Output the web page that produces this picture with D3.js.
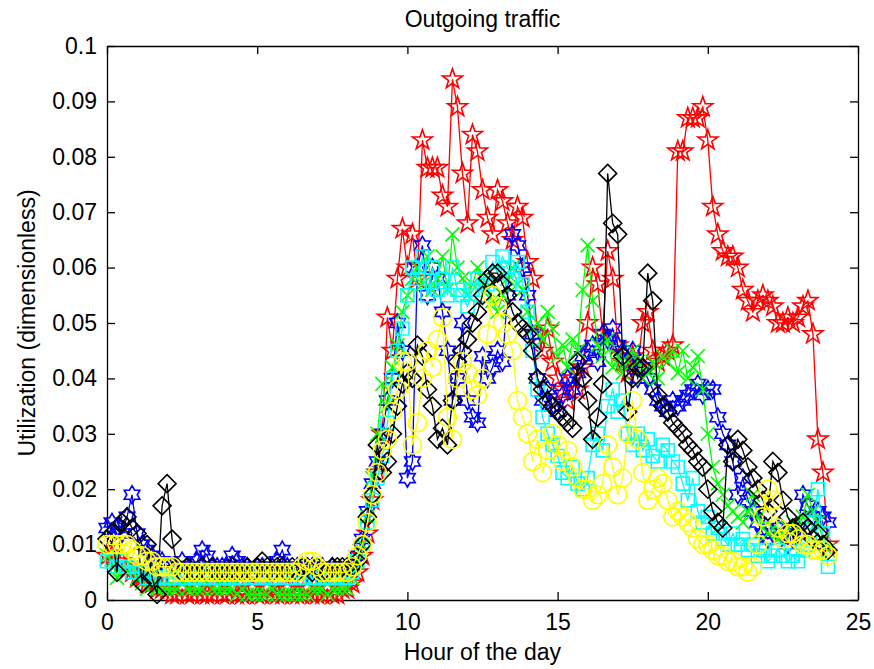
<!DOCTYPE html>
<html>
<head>
<meta charset="utf-8">
<script src="https://d3js.org/d3.v7.min.js"></script>
<style>
  body { margin: 0; background: #fff; }
  text { font-family: Arial, "Liberation Sans", Helvetica, sans-serif; fill: #000; }
</style>
</head>
<body>
<svg id="chart" width="874" height="669"></svg>
<script>
// one sample every 10 minutes, 0h .. 24h
var stepHours = 1 / 6;

var red = [
  0.008,0.008,0.007,0.007,0.006,0.005,
  0.004,0.004,0.003,0.003,0.002,0.002,
  0.002,0.001,0.001,0.002,0.001,0.001,
  0.002,0.001,0.001,0.001,0.002,0.001,
  0.001,0.002,0.001,0.001,0.001,0.002,
  0.001,0.001,0.002,0.001,0.001,0.001,
  0.002,0.001,0.001,0.001,0.002,0.001,
  0.001,0.001,0.002,0.001,0.001,0.002,
  0.002,0.003,0.005,0.008,0.012,0.018,
  0.023,0.030,0.051,0.045,0.058,0.067,
  0.060,0.066,0.058,0.083,0.078,0.078,
  0.078,0.073,0.071,0.094,0.089,0.077,
  0.068,0.084,0.081,0.074,0.069,0.066,
  0.074,0.072,0.068,0.065,0.071,0.069,
  0.061,0.058,0.048,0.045,0.049,0.043,
  0.040,0.038,0.036,0.040,0.038,0.042,
  0.050,0.060,0.057,0.048,0.063,0.058,
  0.046,0.043,0.041,0.044,0.042,0.050,
  0.052,0.045,0.043,0.044,0.045,0.046,
  0.081,0.081,0.087,0.087,0.087,0.089,
  0.083,0.071,0.066,0.063,0.062,0.062,
  0.060,0.056,0.054,0.052,0.054,0.055,
  0.054,0.053,0.050,0.050,0.051,0.050,
  0.051,0.053,0.054,0.048,0.029,0.023,
  0.010
];

var blue = [
  0.013,0.014,0.013,0.012,0.015,0.019,
  0.012,0.010,0.009,0.008,0.007,0.007,
  0.006,0.006,0.006,0.007,0.006,0.006,
  0.007,0.009,0.008,0.006,0.006,0.006,
  0.006,0.008,0.007,0.006,0.006,0.005,
  0.006,0.006,0.005,0.006,0.007,0.009,
  0.006,0.005,0.006,0.006,0.005,0.006,
  0.005,0.006,0.005,0.006,0.005,0.005,
  0.005,0.006,0.008,0.011,0.016,0.021,
  0.025,0.030,0.036,0.040,0.050,0.045,
  0.022,0.025,0.060,0.064,0.055,0.060,
  0.058,0.052,0.045,0.036,0.040,0.050,
  0.036,0.033,0.032,0.044,0.040,0.042,
  0.045,0.043,0.055,0.066,0.064,0.060,
  0.055,0.048,0.040,0.036,0.038,0.035,
  0.034,0.037,0.040,0.038,0.041,0.044,
  0.045,0.046,0.043,0.048,0.047,0.049,
  0.046,0.045,0.043,0.045,0.040,0.042,
  0.040,0.038,0.036,0.035,0.034,0.036,
  0.035,0.036,0.037,0.038,0.039,0.037,
  0.038,0.038,0.033,0.030,0.028,0.025,
  0.019,0.022,0.018,0.016,0.014,0.012,
  0.011,0.012,0.013,0.012,0.010,0.011,
  0.013,0.019,0.017,0.015,0.016,0.015,
  0.014
];

var green = [
  0.008,0.007,0.004,0.006,0.005,0.006,
  0.004,0.003,0.002,0.003,0.002,0.002,
  0.002,0.002,0.002,0.003,0.002,0.002,
  0.002,0.002,0.003,0.002,0.002,0.002,
  0.002,0.002,0.001,0.002,0.001,0.001,
  0.001,0.001,0.001,0.002,0.001,0.001,
  0.001,0.001,0.001,0.001,0.001,0.002,
  0.002,0.002,0.001,0.002,0.002,0.002,
  0.002,0.004,0.007,0.010,0.015,0.022,
  0.030,0.039,0.035,0.042,0.046,0.052,
  0.055,0.058,0.060,0.057,0.062,0.056,
  0.058,0.062,0.056,0.066,0.060,0.058,
  0.055,0.057,0.060,0.058,0.056,0.054,
  0.052,0.055,0.058,0.060,0.057,0.056,
  0.052,0.049,0.050,0.047,0.052,0.049,
  0.044,0.046,0.042,0.047,0.045,0.056,
  0.064,0.054,0.046,0.044,0.047,0.042,
  0.044,0.041,0.043,0.045,0.043,0.040,
  0.041,0.043,0.040,0.044,0.043,0.045,
  0.041,0.045,0.040,0.042,0.044,0.038,
  0.030,0.024,0.021,0.019,0.017,0.016,
  0.015,0.014,0.016,0.019,0.015,0.013,
  0.012,0.013,0.011,0.012,0.013,0.014,
  0.013,0.015,0.019,0.016,0.014,0.011,
  0.009
];

var cyan = [
  0.007,0.007,0.006,0.007,0.006,0.005,
  0.005,0.005,0.004,0.004,0.004,0.004,
  0.004,0.004,0.005,0.004,0.004,0.004,
  0.004,0.004,0.004,0.005,0.004,0.004,
  0.004,0.004,0.004,0.004,0.005,0.004,
  0.004,0.004,0.004,0.004,0.004,0.005,
  0.004,0.004,0.004,0.004,0.005,0.004,
  0.004,0.004,0.004,0.004,0.004,0.004,
  0.004,0.005,0.007,0.010,0.014,0.018,
  0.022,0.026,0.032,0.040,0.045,0.049,
  0.055,0.060,0.058,0.062,0.055,0.060,
  0.056,0.058,0.055,0.060,0.056,0.055,
  0.053,0.056,0.058,0.055,0.057,0.061,
  0.059,0.062,0.060,0.058,0.061,0.057,
  0.052,0.045,0.038,0.033,0.030,0.028,
  0.026,0.023,0.022,0.024,0.021,0.020,
  0.022,0.028,0.030,0.027,0.035,0.038,
  0.034,0.036,0.030,0.028,0.030,0.027,
  0.029,0.026,0.025,0.028,0.027,0.025,
  0.024,0.021,0.018,0.022,0.016,0.014,
  0.015,0.012,0.013,0.011,0.010,0.012,
  0.010,0.011,0.009,0.010,0.008,0.009,
  0.007,0.008,0.009,0.008,0.007,0.008,
  0.007,0.009,0.010,0.014,0.020,0.012,
  0.006
];

var black = [
  0.011,0.012,0.005,0.014,0.015,0.013,
  0.012,0.003,0.010,0.004,0.001,0.017,
  0.021,0.011,0.006,0.005,0.006,0.005,
  0.005,0.006,0.005,0.006,0.005,0.005,
  0.005,0.006,0.005,0.005,0.006,0.005,
  0.006,0.007,0.006,0.005,0.006,0.006,
  0.005,0.006,0.005,0.006,0.006,0.005,
  0.006,0.005,0.005,0.006,0.006,0.006,
  0.006,0.006,0.007,0.010,0.015,0.019,
  0.028,0.023,0.025,0.030,0.035,0.039,
  0.041,0.040,0.046,0.044,0.038,0.035,
  0.029,0.031,0.028,0.036,0.043,0.045,
  0.047,0.050,0.052,0.055,0.058,0.059,
  0.059,0.057,0.055,0.052,0.050,0.049,
  0.048,0.045,0.040,0.038,0.036,0.035,
  0.034,0.033,0.032,0.031,0.043,0.040,
  0.036,0.029,0.033,0.039,0.077,0.068,
  0.066,0.044,0.034,0.040,0.042,0.042,
  0.059,0.054,0.037,0.035,0.034,0.032,
  0.031,0.030,0.028,0.027,0.025,0.024,
  0.020,0.016,0.014,0.013,0.028,0.025,
  0.029,0.027,0.024,0.022,0.020,0.018,
  0.016,0.025,0.023,0.018,0.015,0.013,
  0.012,0.014,0.013,0.011,0.012,0.010,
  0.009
];

var yellow = [
  0.010,0.010,0.010,0.010,0.010,0.009,
  0.008,0.008,0.007,0.007,0.006,0.006,
  0.006,0.006,0.005,0.005,0.005,0.005,
  0.005,0.005,0.005,0.005,0.005,0.005,
  0.005,0.005,0.005,0.005,0.005,0.005,
  0.005,0.005,0.005,0.005,0.005,0.005,
  0.005,0.005,0.005,0.006,0.007,0.007,
  0.006,0.005,0.005,0.005,0.005,0.005,
  0.005,0.006,0.008,0.010,0.014,0.019,
  0.023,0.027,0.029,0.034,0.038,0.043,
  0.043,0.028,0.032,0.040,0.045,0.042,
  0.047,0.051,0.033,0.029,0.040,0.043,
  0.041,0.038,0.037,0.040,0.048,0.055,
  0.053,0.050,0.048,0.045,0.036,0.033,
  0.030,0.025,0.029,0.023,0.027,0.030,
  0.028,0.025,0.027,0.024,0.022,0.020,
  0.020,0.018,0.019,0.021,0.028,0.024,
  0.019,0.022,0.030,0.036,0.029,0.023,
  0.018,0.020,0.022,0.021,0.018,0.015,
  0.016,0.015,0.014,0.013,0.011,0.010,
  0.010,0.009,0.008,0.008,0.007,0.007,
  0.006,0.006,0.005,0.006,0.010,0.015,
  0.020,0.018,0.013,0.011,0.012,0.012,
  0.011,0.010,0.010,0.009,0.009,0.009,
  0.008
];

var xTicks = [0, 5, 10, 15, 20, 25];
var yTicks = [0, 0.01, 0.02, 0.03, 0.04, 0.05, 0.06, 0.07, 0.08, 0.09, 0.1];

// drawing order matters: later series sit on top
var series = [
  {values: red,    color: "#ff0000", marker: "pentagram"},
  {values: blue,   color: "#0000ff", marker: "hexagram"},
  {values: green,  color: "#00ff00", marker: "x"},
  {values: cyan,   color: "#00ffff", marker: "square"},
  {values: black,  color: "#000000", marker: "diamond"},
  {values: yellow, color: "#ffff00", marker: "circle"}
];

var margin = {top: 46, right: 16, bottom: 69, left: 107},
    width = 874 - margin.left - margin.right,
    height = 669 - margin.top - margin.bottom;

var svg = d3.select("#chart")
  .append("g")
    .attr("transform", "translate(" + margin.left + "," + margin.top + ")");

var x = d3.scaleLinear().domain([0, 25]).range([0, width]);
var y = d3.scaleLinear().domain([0, 0.1]).range([height, 0]);

// star shaped polygon, n points
function starPath(n, R, r) {
  var pts = [];
  for (var i = 0; i < 2 * n; i++) {
    var a = -Math.PI / 2 + i * Math.PI / n;
    var rad = (i % 2 == 0) ? R : r;
    pts.push([rad * Math.cos(a), rad * Math.sin(a)]);
  }
  return "M" + pts.map(function(p){ return p[0].toFixed(2) + "," + p[1].toFixed(2); }).join("L") + "Z";
}

var markerPaths = {
  pentagram: starPath(5, 10.5, 4.1),
  hexagram: starPath(6, 9, 5.2),
  x: "M-7,-7L7,7M-7,7L7,-7",
  square: "M-6.5,-6.5L6.5,-6.5L6.5,6.5L-6.5,6.5Z",
  diamond: "M0,-9L9,0L0,9L-9,0Z",
  circle: d3.arc()({innerRadius: 0, outerRadius: 9, startAngle: 0, endAngle: 2 * Math.PI})
};

// axes: MATLAB style box with inward ticks
svg.append("g")
  .attr("transform", "translate(0," + height + ")")
  .call(d3.axisBottom(x).tickValues(xTicks).tickSizeInner(-8).tickSizeOuter(0).tickPadding(14));
svg.append("g")
  .call(d3.axisTop(x).tickValues(xTicks).tickSizeInner(-8).tickSizeOuter(0).tickFormat(""));
svg.append("g")
  .call(d3.axisLeft(y).tickValues(yTicks).tickSizeInner(-8).tickSizeOuter(0).tickPadding(10)
    .tickFormat(function(d){ return d3.format("~g")(+d.toFixed(2)); }));
svg.append("g")
  .attr("transform", "translate(" + width + ",0)")
  .call(d3.axisRight(y).tickValues(yTicks).tickSizeInner(-8).tickSizeOuter(0).tickFormat(""));

svg.selectAll(".domain, .tick line").attr("stroke", "#000").attr("stroke-width", 1.3);
svg.selectAll(".tick text").style("font-size", "23px").attr("fill", "#000");

var line = d3.line()
  .x(function(d, i){ return x(i * stepHours); })
  .y(function(d){ return y(d); });

series.forEach(function(s){
  var g = svg.append("g");
  g.append("path")
    .datum(s.values)
    .attr("d", line)
    .attr("fill", "none")
    .attr("stroke", s.color)
    .attr("stroke-width", 1.3);
  g.selectAll("path.marker")
    .data(s.values)
    .enter()
    .append("path")
      .attr("class", "marker")
      .attr("d", markerPaths[s.marker])
      .attr("transform", function(d, i){ return "translate(" + x(i * stepHours) + "," + y(d) + ")"; })
      .attr("fill", "none")
      .attr("stroke", s.color)
      .attr("stroke-width", 1.6);
});

// titles
svg.append("text")
  .text("Outgoing traffic")
  .attr("x", width / 2)
  .attr("y", -19)
  .attr("text-anchor", "middle")
  .style("font-size", "23px");

svg.append("text")
  .text("Hour of the day")
  .attr("x", width / 2)
  .attr("y", height + 60)
  .attr("text-anchor", "middle")
  .style("font-size", "23px");

svg.append("text")
  .text("Utilization (dimensionless)")
  .attr("transform", "translate(" + (-72) + "," + (height / 2) + ")rotate(-90)")
  .attr("text-anchor", "middle")
  .style("font-size", "23px");
</script>
</body>
</html>
